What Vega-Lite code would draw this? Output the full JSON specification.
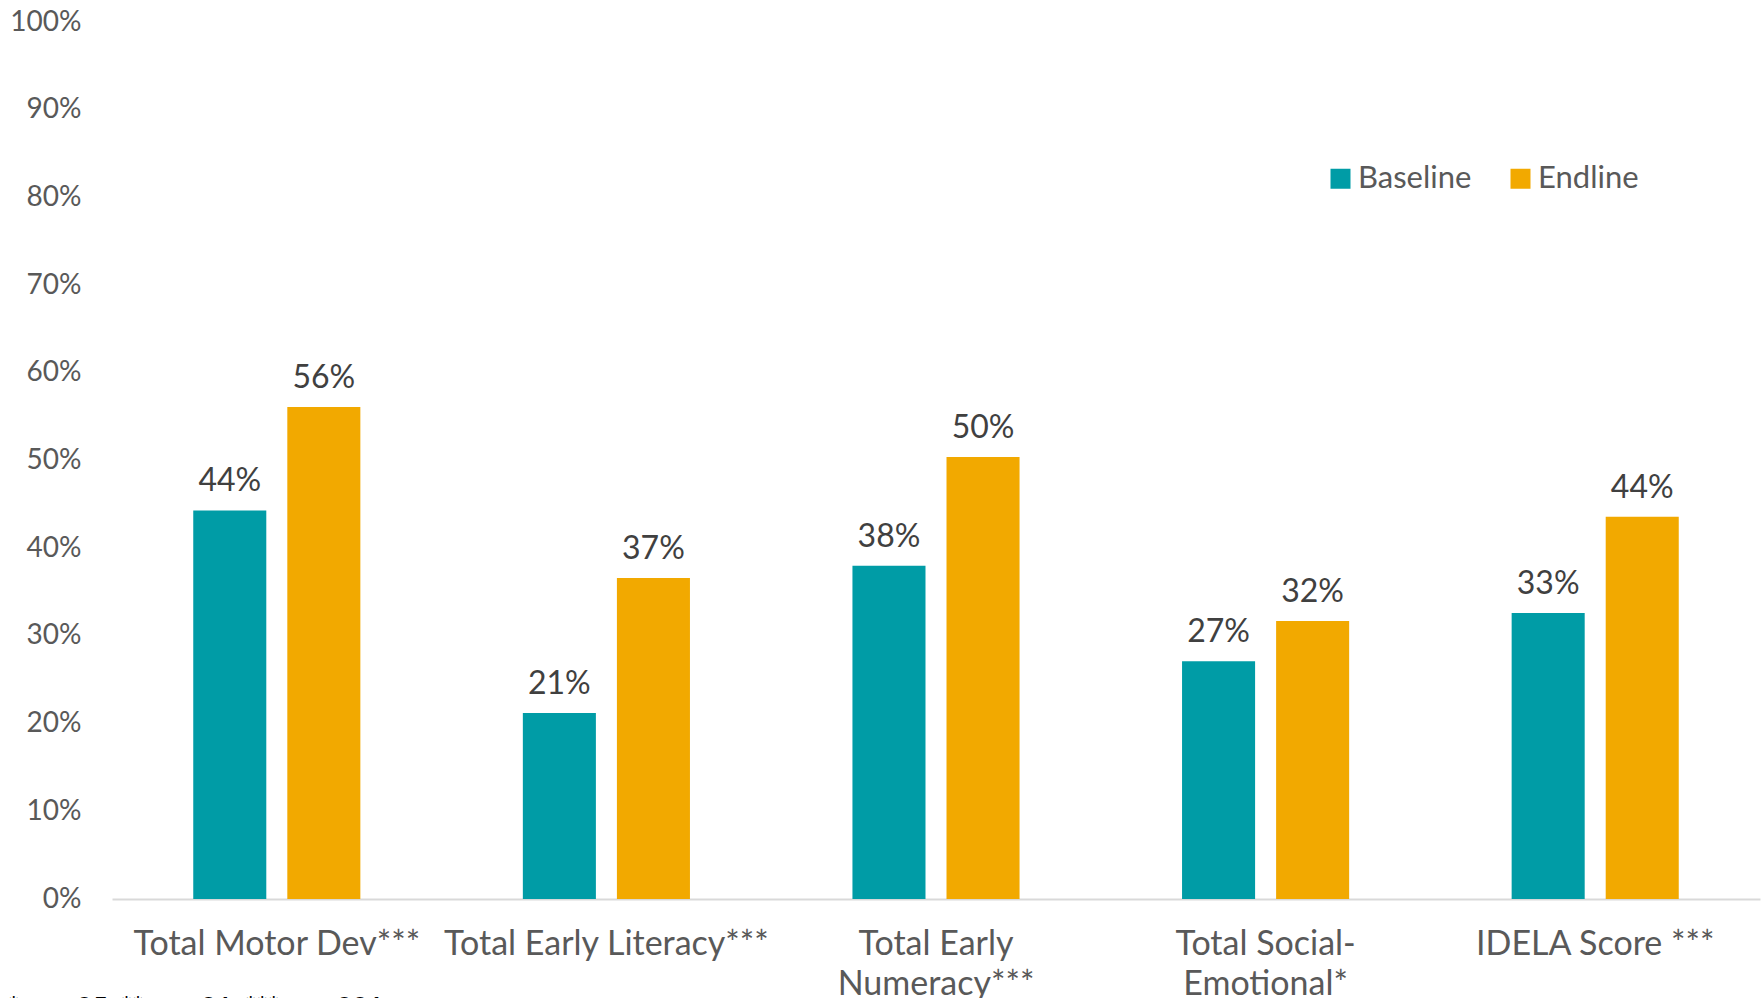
{
  "$schema": "https://vega.github.io/schema/vega-lite/v6.json",
  "autosize": {"type": "none"},
  "width": 1648,
  "height": 877,
  "padding": {"left": 112, "top": 22, "right": 4, "bottom": 99},
  "background": "white",
  "title": {
    "text": "* p < .05, ** p < .01, *** p < .001",
    "orient": "bottom",
    "anchor": "start",
    "frame": "group",
    "dx": -104,
    "offset": -6,
    "fontSize": 27,
    "font": "Lato",
    "fontWeight": "bold",
    "color": "#000000"
  },
  "data": {
    "values": [
      {"category": "Total Motor Dev***", "period": "Baseline", "value": 0.443},
      {"category": "Total Motor Dev***", "period": "Endline", "value": 0.561},
      {"category": "Total Early Literacy***", "period": "Baseline", "value": 0.212},
      {"category": "Total Early Literacy***", "period": "Endline", "value": 0.366},
      {"category": "Total Early|Numeracy***", "period": "Baseline", "value": 0.380},
      {"category": "Total Early|Numeracy***", "period": "Endline", "value": 0.504},
      {"category": "Total Social-|Emotional*", "period": "Baseline", "value": 0.271},
      {"category": "Total Social-|Emotional*", "period": "Endline", "value": 0.317},
      {"category": "IDELA Score ***", "period": "Baseline", "value": 0.326},
      {"category": "IDELA Score ***", "period": "Endline", "value": 0.436}
    ]
  },
  "encoding": {
    "x": {
      "field": "category",
      "type": "nominal",
      "sort": null,
      "scale": {"paddingInner": 0.493, "paddingOuter": 0.2465},
      "axis": {
        "title": null,
        "labelAngle": 0,
        "labelFont": "Lato",
        "labelFontSize": 34,
        "labelColor": "#595959",
        "labelPadding": 28,
        "labelLineHeight": 40,
        "labelLimit": 500,
        "labelOverlap": false,
        "labelBound": false,
        "labelExpr": "split(datum.label, '|')",
        "ticks": false,
        "tickSize": 0,
        "domainColor": "#d9d9d9",
        "domainWidth": 2,
        "grid": false
      }
    },
    "xOffset": {
      "field": "period",
      "type": "nominal",
      "scale": {"paddingInner": 0.2234, "paddingOuter": 0}
    },
    "y": {
      "field": "value",
      "type": "quantitative",
      "scale": {"domain": [0, 1]},
      "axis": {
        "title": null,
        "values": [0, 0.1, 0.2, 0.3, 0.4, 0.5, 0.6, 0.7, 0.8, 0.9, 1],
        "format": ".0%",
        "labelFont": "Lato",
        "labelFontSize": 28,
        "labelColor": "#595959",
        "labelPadding": 31,
        "ticks": false,
        "tickSize": 0,
        "domain": false,
        "grid": false
      }
    }
  },
  "layer": [
    {
      "mark": {"type": "bar"},
      "encoding": {
        "color": {
          "field": "period",
          "type": "nominal",
          "scale": {"domain": ["Baseline", "Endline"], "range": ["#009CA6", "#F2A900"]},
          "legend": {
            "orient": "none",
            "legendX": 1213,
            "legendY": 141,
            "direction": "horizontal",
            "title": null,
            "symbolType": "square",
            "symbolSize": 400,
            "symbolStrokeWidth": 0,
            "labelFont": "Lato",
            "labelFontSize": 31,
            "labelColor": "#595959",
            "labelOffset": 2,
            "columnPadding": 33,
            "padding": 0
          }
        }
      }
    },
    {
      "mark": {"type": "text", "baseline": "alphabetic", "dy": -19, "fontSize": 32, "font": "Lato", "color": "#404040"},
      "encoding": {
        "text": {"field": "value", "type": "quantitative", "format": ".0%"}
      }
    }
  ],
  "config": {"view": {"stroke": null}}
}
